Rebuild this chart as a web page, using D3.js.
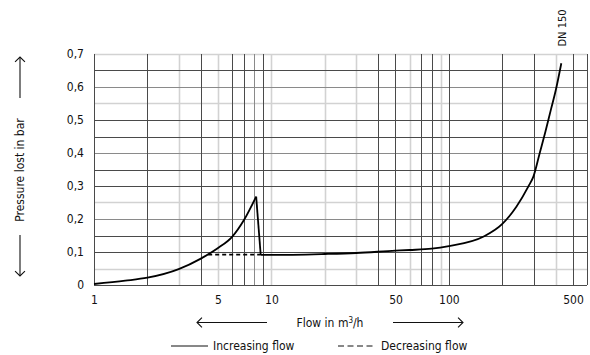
<!DOCTYPE html>
<html>
<head>
<meta charset="utf-8">
<script src="https://cdn.jsdelivr.net/npm/d3@7"></script>
<style>
  body { margin: 0; background: #fff; }
  svg text { font-family: "Liberation Sans Narrow", "DejaVu Sans Condensed", "Roboto", sans-serif; fill: #111; }
</style>
</head>
<body>
<svg id="chart" width="590" height="355"></svg>
<script>
// flow (m3/h) vs pressure lost (bar)
const increasingFlow = [1, 1.5, 2, 3, 4, 5, 6, 7, 8.2, 8.7, 10, 20, 30, 50, 60, 80, 100, 156, 200, 240, 280, 300, 325, 350, 375, 400, 430];
const increasingLoss = [0.003, 0.013, 0.022, 0.048, 0.08, 0.112, 0.146, 0.197, 0.268, 0.091, 0.091, 0.094, 0.097, 0.104, 0.106, 0.11, 0.118, 0.146, 0.185, 0.237, 0.298, 0.33, 0.40, 0.465, 0.53, 0.59, 0.672];
const peakIndex = 8;
const troughIndex = 9;

const decreasingFlow = [4.4, 8.7];
const decreasingLoss = [0.092, 0.092];

const xTicks = [1, 5, 10, 50, 100, 500];
const yTicks = [0, 0.1, 0.2, 0.3, 0.4, 0.5, 0.6, 0.7];

const xGridDark = [1, 2, 4, 6, 7, 9, 40, 50, 70, 80, 100, 200, 300, 500, 600];
const xGridMid = [8];
const xGridLight = [3, 5, 10, 20, 30, 60, 90, 400];
const yGridDark = [0, 0.1, 0.15, 0.3, 0.35, 0.45, 0.5, 0.65];
const yGridMid = [0.2, 0.4, 0.6];
const yGridLight = [0.05, 0.25, 0.55, 0.7];

const svg = d3.select('#chart');

const x = d3.scaleLog().domain([1, 600]).range([94, 587]);
const y = d3.scaleLinear().domain([0, 0.7]).range([285, 54]);

const grid = svg.append('g').attr('class', 'grid');

function vLines(values, color, width) {
  grid.selectAll(null).data(values).enter().append('line')
    .attr('x1', d => Math.round(x(d)) + 0.5).attr('x2', d => Math.round(x(d)) + 0.5)
    .attr('y1', y(0.7)).attr('y2', y(0))
    .attr('stroke', color).attr('stroke-width', width);
}

function hLines(values, color, width) {
  grid.selectAll(null).data(values).enter().append('line')
    .attr('x1', x(1)).attr('x2', x(600))
    .attr('y1', d => Math.round(y(d)) + 0.5).attr('y2', d => Math.round(y(d)) + 0.5)
    .attr('stroke', color).attr('stroke-width', width);
}

// light lines first, dark on top
vLines(xGridLight, '#d2d2d2', 1.6);
hLines(yGridLight, '#d2d2d2', 1.6);
vLines(xGridMid, '#8a8a8a', 1);
hLines(yGridMid, '#8a8a8a', 1);
vLines(xGridDark, '#4a4a4a', 1);
hLines(yGridDark, '#4a4a4a', 1);

// axes labels
const xAxis = d3.axisBottom(x).tickValues(xTicks).tickSize(0).tickPadding(10)
  .tickFormat(d3.format('d'));
svg.append('g').attr('transform', `translate(0, ${y(0)})`).call(xAxis)
  .call(g => g.select('.domain').remove())
  .selectAll('text').style('font-size', '12px').attr('fill', '#111');

const yAxis = d3.axisLeft(y).tickValues(yTicks).tickSize(0).tickPadding(10)
  .tickFormat(d => d === 0 ? '0' : d3.format('.1f')(d).replace('.', ','));
svg.append('g').attr('transform', `translate(${x(1)}, 0)`).call(yAxis)
  .call(g => g.select('.domain').remove())
  .selectAll('text').style('font-size', '12px').attr('fill', '#111');

// curves
const pts = increasingFlow.map((f, i) => [f, increasingLoss[i]]);
const smooth = d3.line().x(d => x(d[0])).y(d => y(d[1])).curve(d3.curveMonotoneX);
const straight = d3.line().x(d => x(d[0])).y(d => y(d[1]));

const curves = svg.append('g').attr('fill', 'none').attr('stroke', '#000').attr('stroke-width', 1.8);
curves.append('path').attr('d', smooth(pts.slice(0, peakIndex + 1)));
curves.append('path').attr('d', straight(pts.slice(peakIndex, troughIndex + 1)));
curves.append('path').attr('d', smooth(pts.slice(troughIndex)));
curves.append('path')
  .attr('d', straight(decreasingFlow.map((f, i) => [f, decreasingLoss[i]])))
  .attr('stroke-dasharray', '4,3');

// DN label
svg.append('text')
  .attr('transform', `translate(566, 28) rotate(-90)`)
  .attr('text-anchor', 'middle')
  .style('font-size', '11px')
  .text('DN 150');

// arrows
function arrow(x1, y1, x2, y2) {
  const g = svg.append('g').attr('stroke', '#111').attr('fill', 'none').attr('stroke-width', 1.1);
  g.append('line').attr('x1', x1).attr('y1', y1).attr('x2', x2).attr('y2', y2);
  const a = Math.atan2(y2 - y1, x2 - x1);
  const len = 7;
  const p1 = [x2 - len * Math.cos(a - Math.PI / 4), y2 - len * Math.sin(a - Math.PI / 4)];
  const p2 = [x2 - len * Math.cos(a + Math.PI / 4), y2 - len * Math.sin(a + Math.PI / 4)];
  g.append('path').attr('d', `M${p1}L${x2},${y2}L${p2}`);
}

// y title
svg.append('text')
  .attr('transform', 'translate(24, 170) rotate(-90)')
  .attr('text-anchor', 'middle')
  .style('font-size', '12px')
  .text('Pressure lost in bar');
arrow(20, 98, 20, 57);
arrow(20, 235, 20, 276);

// x title
svg.append('text')
  .attr('x', 330).attr('y', 327)
  .attr('text-anchor', 'middle')
  .style('font-size', '12px')
  .html('Flow in m<tspan dy="-4" font-size="8px">3</tspan><tspan dy="4">/h</tspan>');
arrow(267, 322.5, 197, 322.5);
arrow(393, 322.5, 463, 322.5);

// legend
const legend = svg.append('g').style('font-size', '12px');
legend.append('line').attr('x1', 171).attr('x2', 208).attr('y1', 346).attr('y2', 346)
  .attr('stroke', '#111').attr('stroke-width', 1);
legend.append('text').attr('x', 213).attr('y', 350).text('Increasing flow');
legend.append('line').attr('x1', 338).attr('x2', 373).attr('y1', 346).attr('y2', 346)
  .attr('stroke', '#111').attr('stroke-width', 1).attr('stroke-dasharray', '6,3.5');
legend.append('text').attr('x', 381).attr('y', 350).text('Decreasing flow');
</script>
</body>
</html>
